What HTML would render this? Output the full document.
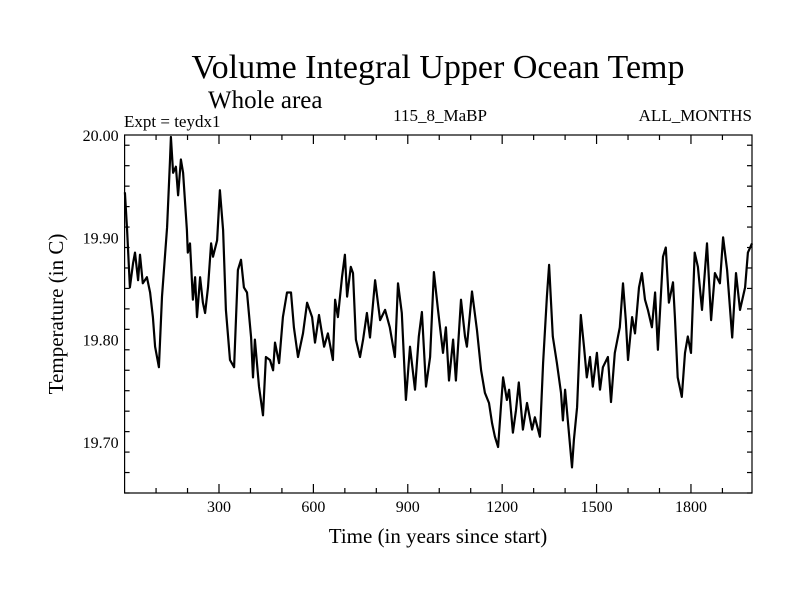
<!DOCTYPE html>
<html><head><meta charset="utf-8"><style>
html,body{margin:0;padding:0;background:#fff;}
svg text{font-family:"Liberation Serif",serif;fill:#000;}
</style></head><body>
<svg id="chart" width="800" height="600" viewBox="0 0 800 600" xmlns="http://www.w3.org/2000/svg">
<rect width="800" height="600" fill="#fff"/>
<text x="438" y="78" font-size="34" text-anchor="middle">Volume Integral Upper Ocean Temp</text>
<text x="208" y="108" font-size="25">Whole area</text>
<text x="124" y="127" font-size="17">Expt = teydx1</text>
<text x="440" y="121" font-size="17" text-anchor="middle">115_8_MaBP</text>
<text x="752" y="121" font-size="17" text-anchor="end">ALL_MONTHS</text>
<text x="438" y="543" font-size="21" text-anchor="middle">Time (in years since start)</text>
<text transform="translate(63,314) rotate(-90)" font-size="21" text-anchor="middle">Temperature (in C)</text>
<g id="axes"></g>
<path id="series" fill="none" stroke="#000" stroke-width="2.2" stroke-linejoin="round"/>
<rect x="124.6" y="135" width="627.4" height="358" fill="none" stroke="#000" stroke-width="1.2"/>
</svg>
<script>
const years=[1,8,17,27,33,43,49,58,71,81,90,97,109,119,135,144,147,154,163,170,179,186,198,201,208,217,224,230,240,249,256,265,275,281,294,303,313,322,335,348,360,370,379,389,402,408,414,427,440,449,462,472,478,491,503,516,529,538,551,567,580,596,605,618,634,646,662,669,678,691,700,707,719,726,735,748,758,770,780,796,812,828,843,859,869,881,894,907,923,935,945,958,971,983,996,1012,1021,1031,1044,1053,1069,1082,1088,1104,1120,1133,1145,1158,1168,1177,1187,1196,1203,1215,1222,1234,1244,1253,1266,1279,1295,1304,1320,1330,1342,1349,1361,1374,1387,1393,1400,1412,1422,1428,1438,1450,1460,1469,1479,1488,1501,1511,1520,1536,1546,1558,1574,1584,1593,1600,1613,1622,1635,1644,1654,1663,1676,1686,1695,1711,1720,1730,1743,1749,1758,1771,1781,1790,1800,1812,1822,1835,1851,1864,1876,1892,1902,1915,1931,1943,1956,1972,1981,1994];
const temps=[19.944,19.907,19.851,19.875,19.885,19.858,19.883,19.855,19.861,19.846,19.822,19.793,19.773,19.842,19.910,19.973,19.998,19.963,19.969,19.941,19.976,19.963,19.907,19.885,19.894,19.839,19.861,19.822,19.861,19.836,19.826,19.851,19.894,19.881,19.897,19.946,19.907,19.829,19.780,19.773,19.868,19.878,19.851,19.846,19.802,19.763,19.800,19.754,19.726,19.783,19.780,19.770,19.797,19.777,19.822,19.846,19.846,19.812,19.783,19.806,19.836,19.822,19.797,19.824,19.793,19.806,19.780,19.839,19.822,19.861,19.883,19.842,19.871,19.865,19.800,19.783,19.800,19.826,19.802,19.858,19.819,19.829,19.812,19.783,19.855,19.826,19.741,19.793,19.751,19.803,19.827,19.754,19.783,19.866,19.829,19.787,19.812,19.760,19.800,19.760,19.839,19.803,19.793,19.847,19.809,19.770,19.748,19.738,19.718,19.705,19.695,19.734,19.763,19.741,19.751,19.709,19.731,19.758,19.712,19.738,19.712,19.724,19.705,19.777,19.842,19.873,19.803,19.777,19.748,19.721,19.751,19.709,19.675,19.702,19.734,19.824,19.793,19.763,19.783,19.754,19.787,19.751,19.773,19.783,19.739,19.787,19.812,19.855,19.819,19.780,19.822,19.806,19.851,19.865,19.839,19.829,19.812,19.846,19.790,19.881,19.890,19.836,19.856,19.822,19.763,19.744,19.787,19.803,19.787,19.885,19.871,19.829,19.894,19.819,19.865,19.855,19.900,19.868,19.802,19.865,19.829,19.851,19.885,19.894];
const xTickLabels=[300,600,900,1200,1500,1800];
const yTickLabels=["19.70","19.80","19.90","20.00"];

const X0=124.6,X1=752,Y0=135,Y1=493;
const xmin=0,xmax=1994,ymin=19.65,ymax=20.0;
function xs(v){return X0+(v-xmin)/(xmax-xmin)*(X1-X0);}
function ys(v){return Y1-(v-ymin)/(ymax-ymin)*(Y1-Y0);}
const NS="http://www.w3.org/2000/svg";
const axes=document.getElementById('axes');
function line(x1,y1,x2,y2,name){
  const l=document.createElementNS(NS,'line');
  l.setAttribute('x1',x1);l.setAttribute('y1',y1);l.setAttribute('x2',x2);l.setAttribute('y2',y2);
  l.setAttribute('stroke','#000');l.setAttribute('stroke-width','1.2');
  
  
  axes.appendChild(l);
}
function text(x,y,s,anchor,name){
  const t=document.createElementNS(NS,'text');
  t.setAttribute('x',x);t.setAttribute('y',y);t.setAttribute('font-size','16');t.setAttribute('text-anchor',anchor);
  t.textContent=s;
  
  
  axes.appendChild(t);
}
for(let v=100;v<xmax;v+=100){
  const x=xs(v);const major=(v%300===0);const L=major?9:5;
  line(x,Y1,x,Y1-L,'x-tick');
  line(x,Y0,x,Y0+L,'x-tick-top');
}
xTickLabels.forEach(v=>text(xs(v),Y1+19,String(v),'middle','x-tick-label'));
for(let k=0;k<=17;k++){
  const v=ymin+k*0.02;
  const y=ys(v);const major=(Math.round(v*1000)%100===0);const L=major?9:5;
  line(X0,y,X0+L,y,'y-tick');
  line(X1,y,X1-L,y,'y-tick-right');
}
yTickLabels.forEach(s=>text(X0-6,ys(parseFloat(s))+6,s,'end','y-tick-label'));
let d='';
years.forEach((yr,i)=>{d+=(i?'L':'M')+xs(yr).toFixed(1)+' '+ys(temps[i]).toFixed(1);});
document.getElementById('series').setAttribute('d',d);
</script>
</body></html>
